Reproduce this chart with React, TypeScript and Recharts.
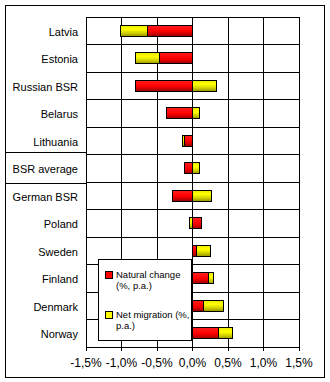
import { Bar, BarChart, CartesianGrid, Legend, XAxis, YAxis } from 'recharts';

const categories = [
  'Latvia',
  'Estonia',
  'Russian BSR',
  'Belarus',
  'Lithuania',
  'BSR average',
  'German BSR',
  'Poland',
  'Sweden',
  'Finland',
  'Denmark',
  'Norway',
];
const naturalChange = [-0.64, -0.46, -0.8, -0.37, -0.11, -0.11, -0.28, 0.13, 0.05, 0.23, 0.15, 0.36];
const netMigration = [-0.37, -0.34, 0.34, 0.1, -0.03, 0.1, 0.27, -0.04, 0.2, 0.07, 0.28, 0.2];
const xTicks = [-1.5, -1, -0.5, 0, 0.5, 1, 1.5];

const data = categories.map((name, i) => ({
  name,
  natural: naturalChange[i],
  migration: netMigration[i],
}));

const W = 330;
const H = 382;
const margin = { top: 17, right: 31, left: 0, bottom: 0 };
const yAxisWidth = 86;
const xAxisHeight = 35;
const plotHeight = H - margin.top - margin.bottom - xAxisHeight;
const band = plotHeight / categories.length;
const xMin = xTicks[0];
const xMax = xTicks[xTicks.length - 1];
const font = '"Liberation Sans", Arial, sans-serif';

const fmt = (v: number) => `${v.toFixed(1).replace('.', ',')}%`;

function CategoryTick(props: any) {
  const { x, y, payload } = props;
  const boxed = payload.value === 'BSR average';
  return (
    <g>
      {boxed && (
        <rect x={5.5} y={y - 15.5} width={x + 8 - 5.5} height={31} fill="none" stroke="#000" strokeWidth={1} />
      )}
      <text x={x} y={y} dy={5} textAnchor="end" fontSize={11} fontFamily={font} fill="#000">
        {payload.value}
      </text>
    </g>
  );
}

function LegendBox() {
  const items = [
    { color: '#ff0000', lines: ['Natural change', '(%, p.a.)'] },
    { color: '#ffff00', lines: ['Net migration (%,', 'p.a.)'] },
  ];
  return (
    <div
      style={{
        width: 92,
        height: 80,
        border: '1px solid #000',
        background: '#fff',
        fontFamily: font,
        fontSize: 9.5,
        lineHeight: '11px',
        color: '#000',
        position: 'relative',
      }}
    >
      {items.map((it, i) => (
        <div key={i} style={{ position: 'absolute', left: 6, top: 9 + i * 40, display: 'flex' }}>
          <span
            style={{
              width: 6,
              height: 6,
              marginTop: 2,
              marginRight: 3,
              background: it.color,
              border: '1px solid #000',
              flexShrink: 0,
            }}
          />
          <div>
            {it.lines.map((l) => (
              <div key={l} style={{ whiteSpace: 'nowrap' }}>
                {l}
              </div>
            ))}
          </div>
        </div>
      ))}
    </div>
  );
}

export default function App() {
  return (
    <div
      style={{
        position: 'absolute',
        left: 0,
        top: 0,
        width: W,
        height: H,
        background: '#fff',
        shapeRendering: 'crispEdges',
      }}
    >
      <div
        style={{
          position: 'absolute',
          left: 5,
          top: 5,
          width: 318,
          height: 371,
          border: '1px solid #000',
        }}
      />
      <BarChart
        width={W}
        height={H}
        data={data}
        layout="vertical"
        stackOffset="sign"
        margin={margin}
        style={{ position: 'absolute', left: 0, top: 0 }}
      >
        <defs>
          <linearGradient id="redFill" x1="0" y1="0" x2="0" y2="1">
            <stop offset="0%" stopColor="#ff2020" />
            <stop offset="55%" stopColor="#ff0000" />
            <stop offset="78%" stopColor="#d00000" />
            <stop offset="100%" stopColor="#990000" />
          </linearGradient>
          <linearGradient id="yellowFill" x1="0" y1="0" x2="0" y2="1">
            <stop offset="0%" stopColor="#e8e800" />
            <stop offset="40%" stopColor="#ffff00" />
            <stop offset="75%" stopColor="#cccc00" />
            <stop offset="100%" stopColor="#999900" />
          </linearGradient>
        </defs>
        <CartesianGrid
          stroke="#000"
          strokeOpacity={1}
          horizontalCoordinatesGenerator={({ offset }: any) =>
            categories.map((_, i) => offset.top + i * band).concat(offset.top + plotHeight)
          }
          verticalCoordinatesGenerator={({ offset }: any) =>
            xTicks.map((t) => offset.left + ((t - xMin) / (xMax - xMin)) * offset.width)
          }
        />
        <XAxis
          type="number"
          domain={[xMin, xMax]}
          ticks={xTicks}
          tickFormatter={fmt}
          height={xAxisHeight}
          tickSize={4}
          tickMargin={7}
          axisLine={{ stroke: '#000' }}
          tickLine={{ stroke: '#000' }}
          tick={{ fontSize: 12, fontFamily: font, fill: '#000' }}
        />
        <YAxis
          type="category"
          dataKey="name"
          width={yAxisWidth}
          axisLine={false}
          tickLine={false}
          tickSize={0}
          tickMargin={8}
          interval={0}
          tick={<CategoryTick />}
        />
        <Legend
          layout="horizontal"
          verticalAlign="middle"
          align="center"
          content={<LegendBox />}
          wrapperStyle={{ position: 'absolute', left: 98, top: 259, width: 94, height: 82 }}
        />
        <Bar
          dataKey="natural"
          name="Natural change (%, p.a.)"
          stackId="a"
          fill="url(#redFill)"
          stroke="#000"
          strokeWidth={1}
          barSize={11}
          isAnimationActive={false}
        />
        <Bar
          dataKey="migration"
          name="Net migration (%, p.a.)"
          stackId="a"
          fill="url(#yellowFill)"
          stroke="#000"
          strokeWidth={1}
          barSize={11}
          isAnimationActive={false}
        />
      </BarChart>
    </div>
  );
}
